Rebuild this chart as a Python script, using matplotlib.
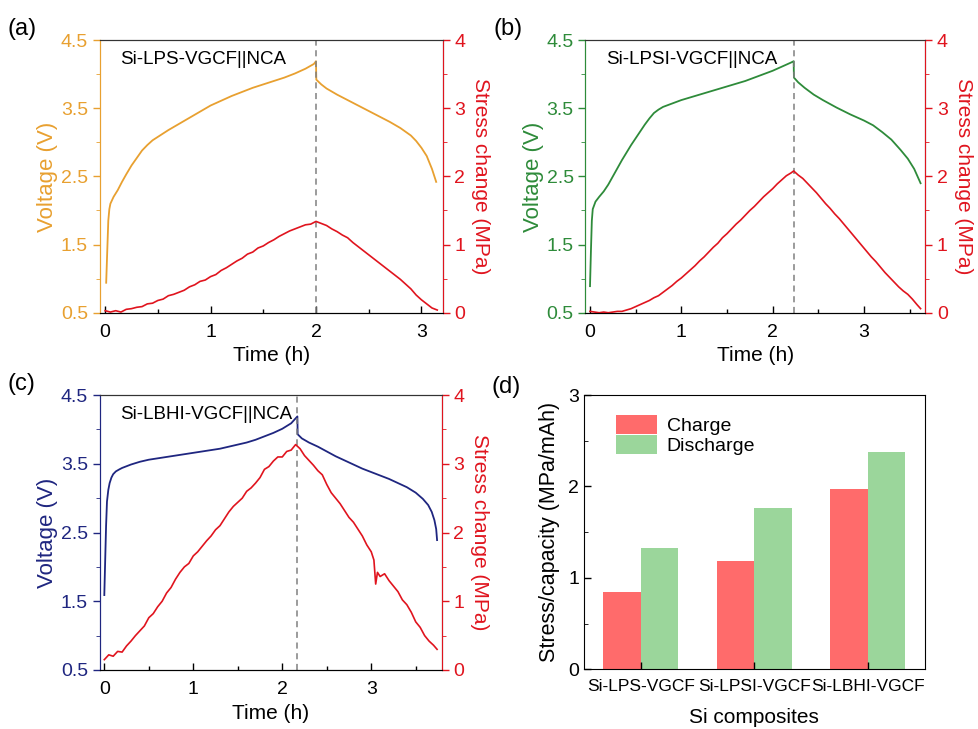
import matplotlib
matplotlib.use("Agg")
import matplotlib.pyplot as plt
import numpy as np
from matplotlib.ticker import MultipleLocator

plt.rcParams['font.family'] = ['Liberation Sans', 'DejaVu Sans']

# === Panel (a): Si-LPS-VGCF||NCA ===
a_vt = [0.01, 0.02, 0.03, 0.04, 0.05, 0.08, 0.12, 0.16, 0.2, 0.25, 0.3, 0.35, 0.4, 0.45, 0.5,
        0.6, 0.7, 0.8, 0.9, 1.0, 1.1, 1.2, 1.3, 1.4, 1.5, 1.6, 1.7, 1.8, 1.9, 1.98, 2.0,
        2.003, 2.05, 2.1, 2.2, 2.3, 2.4, 2.5, 2.6, 2.7, 2.8, 2.9, 2.95, 3.0, 3.05, 3.1, 3.14]
a_v = [0.94, 1.40, 1.85, 2.02, 2.10, 2.20, 2.30, 2.42, 2.53, 2.66, 2.77, 2.88, 2.96, 3.03, 3.08,
       3.18, 3.27, 3.36, 3.45, 3.54, 3.61, 3.68, 3.74, 3.80, 3.85, 3.90, 3.95, 4.01, 4.08, 4.15, 4.19,
       3.92, 3.85, 3.79, 3.70, 3.62, 3.54, 3.46, 3.38, 3.30, 3.21, 3.10, 3.02, 2.92, 2.80, 2.61, 2.42]
a_st = [0.0, 0.05, 0.1, 0.15, 0.2, 0.25, 0.3, 0.35, 0.4, 0.45, 0.5, 0.55, 0.6, 0.65, 0.7, 0.75,
        0.8, 0.85, 0.9, 0.95, 1.0, 1.05, 1.1, 1.15, 1.2, 1.25, 1.3, 1.35, 1.4, 1.45, 1.5, 1.55,
        1.6, 1.65, 1.7, 1.75, 1.8, 1.85, 1.9, 1.95, 2.0, 2.05, 2.1, 2.15, 2.2, 2.25, 2.3, 2.35,
        2.4, 2.45, 2.5, 2.55, 2.6, 2.65, 2.7, 2.75, 2.8, 2.85, 2.9, 2.95, 3.0, 3.05, 3.1, 3.15]
a_s = [0.03, 0.01, 0.03, 0.01, 0.05, 0.06, 0.08, 0.09, 0.13, 0.14, 0.18, 0.20, 0.25, 0.27, 0.30, 0.33,
       0.38, 0.41, 0.46, 0.48, 0.53, 0.56, 0.62, 0.66, 0.71, 0.76, 0.80, 0.86, 0.89, 0.95, 0.98, 1.03,
       1.07, 1.12, 1.16, 1.20, 1.23, 1.26, 1.29, 1.30, 1.34, 1.31, 1.28, 1.23, 1.19, 1.14, 1.10, 1.03,
       0.97, 0.91, 0.85, 0.79, 0.73, 0.67, 0.61, 0.55, 0.49, 0.42, 0.35, 0.26, 0.19, 0.13, 0.07, 0.04]

# === Panel (b): Si-LPSI-VGCF||NCA ===
b_vt = [0.0, 0.01, 0.02, 0.03, 0.06, 0.1, 0.15, 0.2, 0.25, 0.3, 0.35, 0.4, 0.45, 0.5, 0.55,
        0.6, 0.65, 0.7, 0.75, 0.8, 0.9, 1.0, 1.1, 1.2, 1.3, 1.4, 1.5, 1.6, 1.7, 1.8, 1.9, 2.0,
        2.1, 2.2, 2.23, 2.233, 2.28, 2.35, 2.45, 2.55, 2.7, 2.85, 3.0, 3.1, 3.2, 3.3, 3.4,
        3.48, 3.55, 3.62]
b_v = [0.89, 1.40, 1.85, 2.02, 2.13, 2.20, 2.28, 2.38, 2.50, 2.62, 2.74, 2.85, 2.96, 3.06, 3.16,
       3.26, 3.35, 3.43, 3.48, 3.52, 3.57, 3.62, 3.66, 3.70, 3.74, 3.78, 3.82, 3.86, 3.90, 3.95, 4.00, 4.05,
       4.11, 4.17, 4.19, 3.95, 3.88, 3.80, 3.70, 3.62, 3.51, 3.41, 3.32, 3.25, 3.15, 3.04, 2.89,
       2.76, 2.61, 2.40]
b_st = [0.0, 0.05, 0.1, 0.15, 0.2, 0.25, 0.3, 0.35, 0.4, 0.45, 0.5, 0.55, 0.6, 0.65, 0.7, 0.75,
        0.8, 0.85, 0.9, 0.95, 1.0, 1.05, 1.1, 1.15, 1.2, 1.25, 1.3, 1.35, 1.4, 1.45, 1.5, 1.55,
        1.6, 1.65, 1.7, 1.75, 1.8, 1.85, 1.9, 1.95, 2.0, 2.05, 2.1, 2.15, 2.2, 2.23, 2.28, 2.33,
        2.38, 2.43, 2.48, 2.53, 2.58, 2.63, 2.68, 2.73, 2.78, 2.83, 2.88, 2.93, 2.98, 3.03, 3.08,
        3.13, 3.18, 3.23, 3.28, 3.33, 3.38, 3.43, 3.48, 3.53, 3.58, 3.62]
b_s = [0.02, 0.01, 0.00, 0.01, 0.00, 0.01, 0.02, 0.02, 0.04, 0.06, 0.09, 0.12, 0.15, 0.18, 0.22, 0.25,
       0.30, 0.35, 0.40, 0.46, 0.51, 0.57, 0.63, 0.69, 0.76, 0.82, 0.89, 0.96, 1.02, 1.10, 1.16, 1.23,
       1.30, 1.36, 1.43, 1.50, 1.56, 1.63, 1.70, 1.76, 1.82, 1.89, 1.95, 2.01, 2.05, 2.08, 2.02, 1.97,
       1.90, 1.83, 1.76, 1.68, 1.60, 1.53, 1.45, 1.38, 1.30, 1.22, 1.14, 1.06, 0.98, 0.90, 0.82,
       0.75, 0.67, 0.59, 0.52, 0.45, 0.38, 0.32, 0.27, 0.20, 0.12, 0.06]

# === Panel (c): Si-LBHI-VGCF||NCA ===
c_vt = [0.0, 0.01, 0.02, 0.03, 0.045, 0.06, 0.08, 0.1, 0.13, 0.17, 0.2, 0.3, 0.4, 0.5, 0.6,
        0.7, 0.8, 0.9, 1.0, 1.1, 1.2, 1.3, 1.4, 1.5, 1.6, 1.7, 1.8, 1.9, 2.0, 2.1, 2.17,
        2.173, 2.22, 2.3, 2.4, 2.5, 2.6, 2.7, 2.8, 2.9, 3.0, 3.1, 3.2, 3.3, 3.4, 3.5, 3.58,
        3.64, 3.68, 3.71, 3.73, 3.74]
c_v = [1.59, 2.10, 2.60, 2.95, 3.12, 3.22, 3.30, 3.35, 3.39, 3.42, 3.44, 3.49, 3.53, 3.56, 3.58,
       3.60, 3.62, 3.64, 3.66, 3.68, 3.70, 3.72, 3.75, 3.78, 3.81, 3.85, 3.90, 3.95, 4.01, 4.09, 4.19,
       3.93, 3.87, 3.81, 3.75, 3.68, 3.61, 3.55, 3.49, 3.43, 3.38, 3.33, 3.28, 3.22, 3.16, 3.08, 2.99,
       2.90, 2.80, 2.68, 2.55, 2.39]
c_st = [0.0, 0.05, 0.1, 0.15, 0.2, 0.25, 0.3, 0.35, 0.4, 0.45, 0.5, 0.55, 0.6, 0.65, 0.7, 0.75,
        0.8, 0.85, 0.9, 0.95, 1.0, 1.05, 1.1, 1.15, 1.2, 1.25, 1.3, 1.35, 1.4, 1.45, 1.5, 1.55,
        1.6, 1.65, 1.7, 1.75, 1.8, 1.85, 1.9, 1.95, 2.0, 2.05, 2.1, 2.15, 2.2, 2.25, 2.3, 2.35,
        2.4, 2.45, 2.5, 2.55, 2.6, 2.65, 2.7, 2.75, 2.8, 2.85, 2.9, 2.95, 3.0, 3.03, 3.05, 3.07,
        3.1, 3.15, 3.2, 3.25, 3.3, 3.35, 3.4, 3.45, 3.5, 3.55, 3.6, 3.65, 3.7, 3.74]
c_s = [0.15, 0.22, 0.20, 0.27, 0.26, 0.35, 0.42, 0.50, 0.57, 0.64, 0.76, 0.82, 0.92, 1.00, 1.12, 1.20,
       1.32, 1.42, 1.50, 1.55, 1.66, 1.72, 1.80, 1.88, 1.95, 2.04, 2.10, 2.20, 2.30, 2.38, 2.44, 2.50,
       2.60, 2.65, 2.72, 2.80, 2.92, 2.96, 3.04, 3.10, 3.10, 3.18, 3.20, 3.28, 3.22, 3.12, 3.05, 2.98,
       2.90, 2.84, 2.70, 2.58, 2.50, 2.42, 2.32, 2.22, 2.15, 2.05, 1.95, 1.82, 1.72, 1.60, 1.25, 1.42,
       1.36, 1.40, 1.30, 1.22, 1.14, 1.02, 0.95, 0.84, 0.70, 0.62, 0.50, 0.42, 0.36, 0.30]

# === Panel (d): bar chart ===
composites = ["Si-LPS-VGCF", "Si-LPSI-VGCF", "Si-LBHI-VGCF"]
charge = [0.85, 1.18, 1.97]
discharge = [1.33, 1.77, 2.38]

RED = "#e0141e"
fig = plt.figure(figsize=(9.79, 7.29), dpi=100)


def voltage_panel(rect, vt, v, st, s, t_peak, xmax, color, label, tag):
    ax = fig.add_axes(rect)
    ax.plot(vt, v, color=color, lw=1.3)
    ax.axvline(t_peak, color="gray", ls=(0, (4, 3)), lw=1.1)
    ax.set_ylim(0.5, 4.5)
    ax.set_xlim(-0.05, xmax)
    ax.set_yticks([0.5, 1.5, 2.5, 3.5, 4.5])
    ax.yaxis.set_minor_locator(MultipleLocator(0.5))
    ax.set_xticks([0, 1, 2, 3])
    ax.xaxis.set_minor_locator(MultipleLocator(0.5))
    ax.tick_params(axis="y", direction="out", colors=color, labelsize=14, length=5, width=1)
    ax.tick_params(axis="y", which="minor", direction="out", colors=color, length=3)
    ax.tick_params(axis="x", which="both", direction="in", labelsize=14, length=5, width=1, pad=8)
    ax.tick_params(axis="x", which="minor", length=3)
    ax.spines["left"].set_color(color)
    ax.spines["top"].set_color("#333333")
    ax.set_ylabel("Voltage (V)", color=color, fontsize=16, labelpad=2)
    ax.set_xlabel("Time (h)", fontsize=15, labelpad=4)
    ax.text(0.06, 0.96, label, transform=ax.transAxes, fontsize=13.5, va="top")
    ax.text(-0.27, 1.04, tag, transform=ax.transAxes, fontsize=17, va="center")

    ax2 = ax.twinx()
    ax2.plot(st, s, color=RED, lw=1.2)
    ax2.set_ylim(0, 4)
    ax2.set_yticks([0, 1, 2, 3, 4])
    ax2.yaxis.set_minor_locator(MultipleLocator(0.5))
    ax2.tick_params(axis="y", direction="out", colors=RED, labelsize=14, length=5, width=1)
    ax2.tick_params(axis="y", which="minor", direction="out", colors=RED, length=3)
    ax2.spines["right"].set_color(RED)
    ax2.spines["left"].set_color(color)
    ax2.spines["top"].set_color("#333333")
    ax2.set_ylabel("Stress change (MPa)", color=RED, fontsize=15, rotation=270, labelpad=18)
    return ax


voltage_panel([0.102, 0.571, 0.350, 0.374], a_vt, a_v, a_st, a_s, 2.0, 3.2,
              "#e8a030", "Si-LPS-VGCF||NCA", "(a)")
voltage_panel([0.598, 0.571, 0.347, 0.374], b_vt, b_v, b_st, b_s, 2.23, 3.67,
              "#2e8b3a", "Si-LPSI-VGCF||NCA", "(b)")
voltage_panel([0.102, 0.081, 0.349, 0.377], c_vt, c_v, c_st, c_s, 2.17, 3.79,
              "#1f2680", "Si-LBHI-VGCF||NCA", "(c)")

# === Panel (d) ===
axd = fig.add_axes([0.5965, 0.082, 0.348, 0.376])
x = np.arange(len(composites))
w = 0.33
axd.bar(x - w / 2, charge, width=w, color="#ff6b6b", label="Charge")
axd.bar(x + w / 2, discharge, width=w, color="#9bd69b", label="Discharge")
axd.set_xlim(-0.5, 2.5)
axd.set_ylim(0, 3)
axd.set_yticks([0, 1, 2, 3])
axd.set_yticklabels(["0", "1", "2", "3"])
axd.set_xticks(x)
axd.set_xticklabels(composites)
axd.yaxis.set_minor_locator(MultipleLocator(0.5))
axd.tick_params(axis="both", direction="in", labelsize=14, length=5, width=1)
axd.tick_params(axis="y", which="minor", direction="in", length=3)
axd.tick_params(axis="x", labelsize=12.5, pad=7)
axd.set_ylabel("Stress/capacity (MPa/mAh)", fontsize=15.5, labelpad=6)
axd.set_xlabel("Si composites", fontsize=15, labelpad=10)
axd.legend(loc="upper left", bbox_to_anchor=(0.06, 0.97), frameon=False, fontsize=14,
           handlelength=2.1, handleheight=1.1, labelspacing=0.0, borderaxespad=0.2,
           handletextpad=0.5)
axd.text(-0.27, 1.03, "(d)", transform=axd.transAxes, fontsize=17, va="center")

fig.savefig("out.png", dpi=100)
